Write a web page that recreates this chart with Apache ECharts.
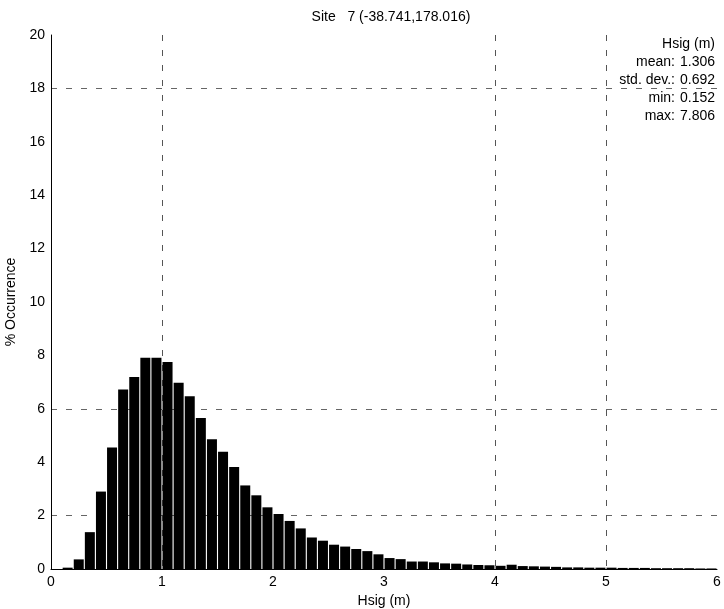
<!DOCTYPE html>
<html>
<head>
<meta charset="utf-8">
<script src="https://cdn.jsdelivr.net/npm/echarts@6/dist/echarts.min.js"></script>
<style>
html,body{margin:0;padding:0;background:#fff;}
#chart{width:724px;height:609px;}
</style>
</head>
<body>
<div id="chart"></div>
<script>
// Bin centres (Hsig, m) and % occurrence
var binCenters = [0.15,0.25,0.35,0.45,0.55,0.65,0.75,0.85,0.95,1.05,
                  1.15,1.25,1.35,1.45,1.55,1.65,1.75,1.85,1.95,2.05,
                  2.15,2.25,2.35,2.45,2.55,2.65,2.75,2.85,2.95,3.05,
                  3.15,3.25,3.35,3.45,3.55,3.65,3.75,3.85,3.95,4.05,
                  4.15,4.25,4.35,4.45,4.55,4.65,4.75,4.85,4.95,5.05,
                  5.15,5.25,5.35,5.45,5.55,5.65,5.75,5.85,5.95];
var occurrence = [0.05,0.36,1.38,2.9,4.55,6.72,7.19,7.91,7.91,7.75,
                  6.98,6.47,5.66,4.86,4.39,3.82,3.13,2.76,2.31,2.06,
                  1.80,1.52,1.18,1.06,0.91,0.84,0.75,0.67,0.55,0.41,
                  0.37,0.28,0.28,0.25,0.21,0.20,0.17,0.15,0.14,0.12,
                  0.16,0.11,0.10,0.09,0.08,0.06,0.06,0.05,0.05,0.05,
                  0.04,0.04,0.04,0.03,0.03,0.03,0.03,0.02,0.02];
var xTicks = [0,1,2,3,4,5,6];
var yTicks = [0,2,4,6,8,10,12,14,16,18,20];
var titleText = 'Site   7 (-38.741,178.016)';
var statLabels = ['mean:', 'std. dev.:', 'min:', 'max:'];
var statValues = ['1.306', '0.692', '0.152', '7.806'];
var statHeader = 'Hsig (m)';

var FONT = 'Liberation Sans, Arial, sans-serif';
var chart = echarts.init(document.getElementById('chart'));

// visible dashed grid lines in reference (x = 1,4,5 ; y = 2,6,18)
var xGridColors = xTicks.map(function(t){ return (t===1||t===4||t===5) ? '#555' : 'rgba(0,0,0,0)'; });
var yGridColors = yTicks.map(function(t){ return (t===2||t===6||t===18) ? '#666' : 'rgba(0,0,0,0)'; });

var statGraphics = [];
statGraphics.push({type:'text', x: 715, y: 44, style:{text: statHeader, font: '14px ' + FONT, fill:'#000', align:'right', verticalAlign:'middle'}});
for (var i = 0; i < statLabels.length; i++) {
  statGraphics.push({type:'text', x: 675, y: 62 + i*18, style:{text: statLabels[i], font:'14px ' + FONT, fill:'#000', align:'right', verticalAlign:'middle'}});
  statGraphics.push({type:'text', x: 715, y: 62 + i*18, style:{text: statValues[i], font:'14px ' + FONT, fill:'#000', align:'right', verticalAlign:'middle'}});
}

chart.setOption({
  animation: false,
  backgroundColor: '#fff',
  title: {
    text: titleText, left: 386, top: 5, textAlign: 'center',
    textStyle: {fontFamily: FONT, fontSize: 14, fontWeight: 'normal', color: '#000'}
  },
  grid: {left: 51, right: 7, top: 35, bottom: 40, containLabel: false, outerBoundsMode: 'none'},
  xAxis: {
    type: 'value', min: 0, max: 6, interval: 1,
    name: 'Hsig (m)', nameLocation: 'middle', nameGap: 24,
    nameTextStyle: {fontFamily: FONT, fontSize: 14, color: '#000'},
    axisLine: {show: true, lineStyle: {color: '#000', width: 1}},
    axisTick: {show: false},
    axisLabel: {fontFamily: FONT, fontSize: 14, color: '#000', margin: 6},
    splitLine: {show: true, lineStyle: {type: [6, 9], color: xGridColors, width: 1}}
  },
  yAxis: {
    type: 'value', min: 0, max: 20, interval: 2,
    name: '% Occurrence', nameLocation: 'middle', nameGap: 29, nameRotate: 90,
    nameTextStyle: {fontFamily: FONT, fontSize: 14, color: '#000'},
    axisLine: {show: true, lineStyle: {color: '#000', width: 1}},
    axisTick: {show: false},
    axisLabel: {fontFamily: FONT, fontSize: 14, color: '#000', margin: 6},
    splitLine: {show: true, lineStyle: {type: [6, 9], color: yGridColors, width: 1}}
  },
  series: [{
    type: 'bar',
    barWidth: 10,
    itemStyle: {color: '#000'},
    data: binCenters.map(function(c, i){ return [c, occurrence[i]]; })
  }],
  graphic: statGraphics
});
</script>
</body>
</html>
